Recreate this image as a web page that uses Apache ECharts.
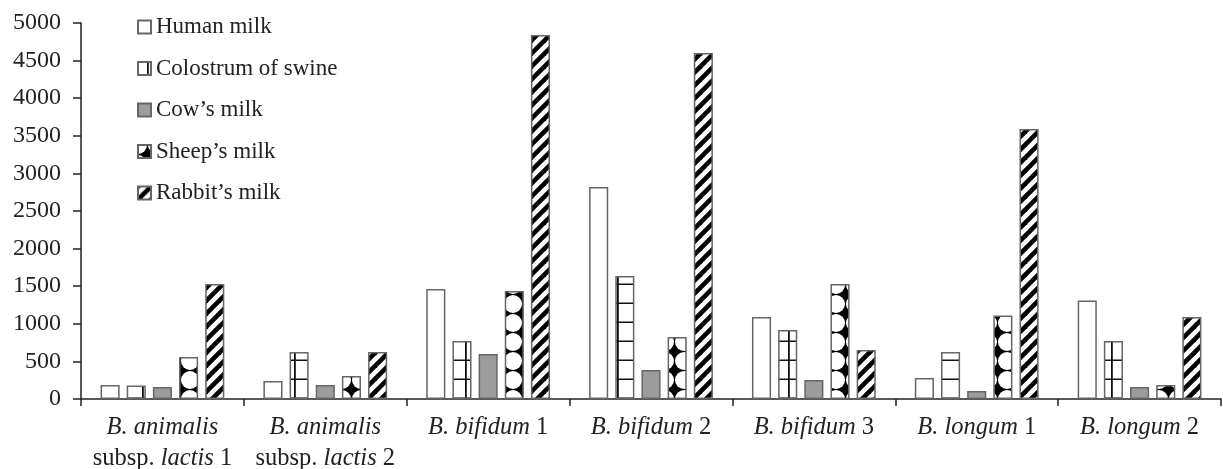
<!DOCTYPE html>
<html>
<head>
<meta charset="utf-8">
<script src="https://cdn.jsdelivr.net/npm/echarts@6/dist/echarts.min.js"></script>
<style>
html,body{margin:0;padding:0;background:#fff;}
#chart{width:1223px;height:469px;}
</style>
</head>
<body>
<div id="chart"></div>
<script>
// ---- data ----
const categories = [
  'B. animalis subsp. lactis 1',
  'B. animalis subsp. lactis 2',
  'B. bifidum 1',
  'B. bifidum 2',
  'B. bifidum 3',
  'B. longum 1',
  'B. longum 2'
];
const seriesNames = ['Human milk', 'Colostrum of swine', "Cow\u2019s milk", "Sheep\u2019s milk", "Rabbit\u2019s milk"];
const humanMilk     = [186, 240, 1463, 2819, 1090, 279, 1310];
const colostrumSwine= [180, 625, 771, 1636, 918, 625, 771];
const cowsMilk      = [160, 186, 598, 386, 253, 106, 160];
const sheepsMilk    = [558, 306, 1436, 824, 1530, 1110, 186];
const rabbitsMilk   = [1530, 625, 4840, 4600, 652, 3590, 1090];
const yTicks = [0, 500, 1000, 1500, 2000, 2500, 3000, 3500, 4000, 4500, 5000];

// ---- patterns ----
function makeTile(w, h, draw) {
  const c = document.createElement('canvas');
  c.width = w; c.height = h;
  const ctx = c.getContext('2d');
  draw(ctx, w, h);
  return c;
}
const gridTile = makeTile(19, 19, (ctx, w, h) => {
  ctx.fillStyle = '#fff'; ctx.fillRect(0, 0, w, h);
  ctx.fillStyle = '#111';
  ctx.fillRect(0, 17.5, w, 1.8);
  ctx.fillRect(9, 0, 1.8, h);
});
const dotTile = makeTile(19, 19, (ctx, w, h) => {
  ctx.fillStyle = '#000'; ctx.fillRect(0, 0, w, h);
  ctx.fillStyle = '#fff';
  const r = 9;
  [[0,0],[w,0],[0,h],[w,h]].forEach(p => {
    ctx.beginPath(); ctx.arc(p[0], p[1], r, 0, Math.PI * 2); ctx.fill();
  });
});
const stripeTile = makeTile(13, 13, (ctx, w, h) => {
  ctx.fillStyle = '#fff'; ctx.fillRect(0, 0, w, h);
  ctx.strokeStyle = '#000'; ctx.lineWidth = 4.6;
  const lines = [[0, h, w, 0], [-w, h, w, -h], [0, 2 * h, 2 * w, 0]];
  lines.forEach(l => { ctx.beginPath(); ctx.moveTo(l[0], l[1]); ctx.lineTo(l[2], l[3]); ctx.stroke(); });
});

const fills = [
  '#ffffff',
  { image: gridTile, repeat: 'repeat' },
  '#9c9c9c',
  { image: dotTile, repeat: 'repeat' },
  { image: stripeTile, repeat: 'repeat' }
];
const values = [humanMilk, colostrumSwine, cowsMilk, sheepsMilk, rabbitsMilk];

const FONT = '"Liberation Serif", "Times New Roman", serif';

function labelFmt(v) {
  const parts = v.split(' subsp. ');
  if (parts.length === 2) {
    const m = parts[1].match(/^(\S+)\s+(.*)$/);
    return '{i|' + parts[0] + '}\n{n|subsp. }{i|' + m[1] + '}{n| ' + m[2] + '}';
  }
  const m = v.match(/^(.*)\s+(\S+)$/);
  return '{i|' + m[1] + '}{n| ' + m[2] + '}';
}

const chart = echarts.init(document.getElementById('chart'), null, { renderer: 'canvas' });
chart.setOption({
  animation: false,
  backgroundColor: '#fff',
  grid: { left: 81, right: 2, top: 23, bottom: 70, containLabel: false, outerBoundsMode: 'none' },
  legend: {
    orient: 'vertical',
    left: 132,
    top: 10,
    itemWidth: 13,
    itemHeight: 13,
    itemGap: 17.5,
    icon: 'rect',
    data: seriesNames,
    textStyle: { fontFamily: FONT, fontSize: 23, color: '#222', lineHeight: 24, padding: [0, 0, 0, 0] }
  },
  xAxis: {
    type: 'category',
    data: categories,
    axisLine: { lineStyle: { color: '#222', width: 1.5 } },
    axisTick: { show: true, length: 7, lineStyle: { color: '#222', width: 1.5 } },
    axisLabel: {
      interval: 0,
      margin: 13,
      formatter: labelFmt,
      color: '#222',
      rich: {
        i: { fontFamily: FONT, fontSize: 24.5, fontStyle: 'italic', color: '#222', lineHeight: 31 },
        n: { fontFamily: FONT, fontSize: 24.5, color: '#222', lineHeight: 31 }
      }
    }
  },
  yAxis: {
    type: 'value',
    min: 0,
    max: 5000,
    interval: 500,
    axisLine: { show: true, lineStyle: { color: '#222', width: 1.5 } },
    axisTick: { show: true, length: 8, lineStyle: { color: '#222', width: 1.5 } },
    splitLine: { show: false },
    axisLabel: {
      margin: 20,
      fontFamily: FONT, fontSize: 24, color: '#222',
      formatter: v => yTicks.includes(v) ? String(v) : ''
    }
  },
  series: seriesNames.map((name, i) => ({
    name: name,
    type: 'bar',
    data: values[i],
    barGap: '37%',
    barCategoryGap: '24%',
    itemStyle: { color: fills[i], borderColor: '#666', borderWidth: 1.5 },
    emphasis: { disabled: true }
  }))
});
</script>
</body>
</html>
